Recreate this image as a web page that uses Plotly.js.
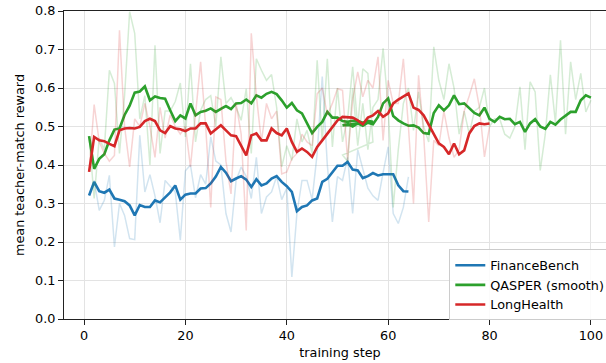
<!DOCTYPE html>
<html>
<head>
<meta charset="utf-8">
<script src="https://cdn.plot.ly/plotly-3.0.1.min.js"></script>
<style>
html, body { margin: 0; padding: 0; overflow: hidden; background: #fff; }
#chart { width: 616px; height: 363px; }
</style>
</head>
<body>
<div id="chart"></div>
<script>
// ---- data ----
const financeSteps = Array.from({length: 64}, (_, i) => i + 1);
const financeRaw = [0.321,0.36,0.282,0.308,0.373,0.187,0.30,0.269,0.209,0.206,
  0.477,0.33,0.375,0.32,0.25,0.36,0.345,0.33,0.205,0.385,
  0.40,0.315,0.375,0.35,0.473,0.41,0.40,0.274,0.226,0.36,
  0.395,0.37,0.313,0.42,0.274,0.317,0.33,0.37,0.31,0.34,
  0.109,0.274,0.36,0.36,0.31,0.43,0.63,0.40,0.252,0.37,
  0.36,0.42,0.274,0.44,0.39,0.34,0.32,0.308,0.38,0.447,
  0.274,0.248,0.29,0.369];
const financeSmooth = [0.321,0.356,0.332,0.328,0.336,0.313,0.310,0.306,0.295,0.269,
  0.296,0.291,0.291,0.308,0.303,0.315,0.329,0.347,0.310,0.323,
  0.326,0.326,0.339,0.340,0.352,0.370,0.395,0.380,0.358,0.365,
  0.371,0.362,0.343,0.363,0.347,0.352,0.365,0.371,0.356,0.345,
  0.330,0.280,0.291,0.295,0.308,0.313,0.356,0.364,0.382,0.398,
  0.398,0.408,0.388,0.386,0.366,0.371,0.379,0.373,0.376,0.376,
  0.376,0.347,0.332,0.331];

// QASPER log restarts at step 51 after step 57
const qasperSteps = [1,2,3,4,5,6,7,8,9,10,11,12,13,14,15,16,17,18,19,20,
  21,22,23,24,25,26,27,28,29,30,31,32,33,34,35,36,37,38,39,40,
  41,42,43,44,45,46,47,48,49,50,51,52,53,54,55,56,57,
  51,52,53,54,55,56,57,58,59,60,61,62,63,64,65,66,67,68,69,70,
  71,72,73,74,75,76,77,78,79,80,81,82,83,84,85,86,87,88,89,90,
  91,92,93,94,95,96,97,98,99,100];
const qasperRaw = [0.475,0.313,0.47,0.44,0.646,0.612,0.43,0.58,0.798,0.742,
  0.52,0.58,0.40,0.711,0.43,0.54,0.54,0.565,0.613,0.473,
  0.663,0.46,0.542,0.57,0.58,0.50,0.681,0.56,0.575,0.55,
  0.516,0.598,0.43,0.676,0.646,0.62,0.635,0.55,0.395,0.45,
  0.412,0.52,0.46,0.49,0.43,0.672,0.46,0.676,0.447,0.60,
  0.46,0.52,0.655,0.50,0.65,0.638,0.46,
  0.426,0.41,0.60,0.45,0.56,0.44,0.55,0.57,0.703,0.55,
  0.29,0.44,0.56,0.60,0.49,0.59,0.50,0.46,0.707,0.62,
  0.57,0.663,0.60,0.48,0.54,0.48,0.54,0.55,0.60,0.50,
  0.52,0.52,0.48,0.47,0.50,0.603,0.44,0.616,0.59,0.386,
  0.48,0.634,0.51,0.724,0.48,0.668,0.57,0.638,0.538,0.568];
const qasperSmooth = [0.475,0.39,0.416,0.428,0.464,0.492,0.495,0.53,0.554,0.588,
  0.591,0.604,0.568,0.578,0.574,0.572,0.542,0.514,0.529,0.521,
  0.56,0.529,0.538,0.541,0.547,0.538,0.546,0.553,0.545,0.56,
  0.561,0.57,0.56,0.581,0.575,0.585,0.59,0.584,0.568,0.549,
  0.561,0.542,0.534,0.509,0.483,0.499,0.512,0.538,0.523,0.523,
  0.514,0.512,0.515,0.514,0.51,0.515,0.512,
  0.503,0.506,0.50,0.508,0.502,0.51,0.506,0.525,0.56,0.573,
  0.527,0.516,0.508,0.502,0.503,0.497,0.483,0.481,0.535,0.555,
  0.542,0.555,0.581,0.558,0.56,0.547,0.535,0.529,0.549,0.52,
  0.512,0.525,0.519,0.52,0.506,0.512,0.486,0.508,0.519,0.50,
  0.494,0.512,0.505,0.518,0.529,0.538,0.538,0.568,0.581,0.575];

const longSteps = Array.from({length: 80}, (_, i) => i + 1);
const longRaw = [0.382,0.557,0.46,0.43,0.41,0.425,0.75,0.50,0.395,0.52,
  0.50,0.56,0.50,0.42,0.55,0.47,0.53,0.50,0.48,0.50,
  0.395,0.53,0.668,0.50,0.29,0.577,0.57,0.41,0.325,0.56,
  0.48,0.23,0.742,0.58,0.46,0.56,0.52,0.54,0.377,0.382,
  0.416,0.43,0.48,0.46,0.45,0.585,0.60,0.53,0.56,0.598,
  0.594,0.412,0.57,0.642,0.577,0.62,0.60,0.681,0.464,0.62,
  0.56,0.56,0.676,0.50,0.30,0.633,0.48,0.252,0.464,0.45,
  0.54,0.47,0.42,0.44,0.54,0.58,0.624,0.55,0.421,0.50];
const longSmooth = [0.382,0.473,0.464,0.462,0.455,0.449,0.49,0.495,0.496,0.495,
  0.499,0.514,0.52,0.514,0.49,0.483,0.501,0.495,0.493,0.488,
  0.495,0.495,0.508,0.508,0.482,0.492,0.503,0.49,0.477,0.475,
  0.451,0.425,0.477,0.482,0.464,0.464,0.495,0.483,0.477,0.495,
  0.46,0.434,0.443,0.434,0.421,0.447,0.464,0.482,0.499,0.516,
  0.525,0.524,0.523,0.516,0.506,0.523,0.529,0.54,0.525,0.534,
  0.56,0.57,0.577,0.586,0.549,0.543,0.529,0.505,0.48,0.456,
  0.447,0.428,0.456,0.428,0.438,0.482,0.501,0.508,0.506,0.508];

const seriesNames = ["FinanceBench", "QASPER (smooth)", "LongHealth"];
const xTicks = [0, 20, 40, 60, 80, 100];
const yTicks = [0.0, 0.1, 0.2, 0.3, 0.4, 0.5, 0.6, 0.7, 0.8];

// ---- styling ----
const colors = ["#1f77b4", "#2ca02c", "#d62728"];
const sets = [
  [financeSteps, financeRaw, financeSmooth],
  [qasperSteps, qasperRaw, qasperSmooth],
  [longSteps, longRaw, longSmooth]
];
const traces = [];
sets.forEach((s, i) => {
  traces.push({x: s[0], y: s[1], mode: "lines", type: "scatter", showlegend: false,
    opacity: 0.2, line: {color: colors[i], width: 1.5}, hoverinfo: "skip"});
  traces.push({x: s[0], y: s[2], mode: "lines", type: "scatter", name: seriesNames[i],
    line: {color: colors[i], width: 2.6}});
});

const font = {family: "DejaVu Sans, sans-serif", size: 12.8, color: "#000"};
const layout = {
  width: 616, height: 363,
  margin: {l: 64, r: 0, t: 11, b: 44, pad: 0},
  paper_bgcolor: "#fff", plot_bgcolor: "#fff",
  font: font,
  showlegend: true,
  legend: {x: 0.698, y: 0.226, xanchor: "left", yanchor: "top",
    bgcolor: "rgba(255,255,255,0.85)", bordercolor: "#cccccc", borderwidth: 1,
    font: font, tracegroupgap: 0, itemwidth: 30},
  xaxis: {range: [-3.95, 104.95], tickvals: xTicks, ticktext: xTicks.map(String),
    showgrid: true, gridcolor: "#e3e3e3", gridwidth: 1, zeroline: false,
    showline: true, linecolor: "#222", linewidth: 1, mirror: true,
    ticks: "outside", ticklen: 5, tickcolor: "#222", tickfont: font,
    title: {text: "training step", font: font, standoff: 5}},
  yaxis: {range: [0, 0.8], tickvals: yTicks, ticktext: yTicks.map(v => v.toFixed(1)),
    showgrid: true, gridcolor: "#e3e3e3", gridwidth: 1, zeroline: false,
    showline: true, linecolor: "#222", linewidth: 1, mirror: true,
    ticks: "outside", ticklen: 5, tickcolor: "#222", tickfont: font,
    title: {text: "mean teacher-match reward", font: font, standoff: 7}}
};
Plotly.newPlot("chart", traces, layout, {displayModeBar: false, staticPlot: true});
</script>
</body>
</html>
